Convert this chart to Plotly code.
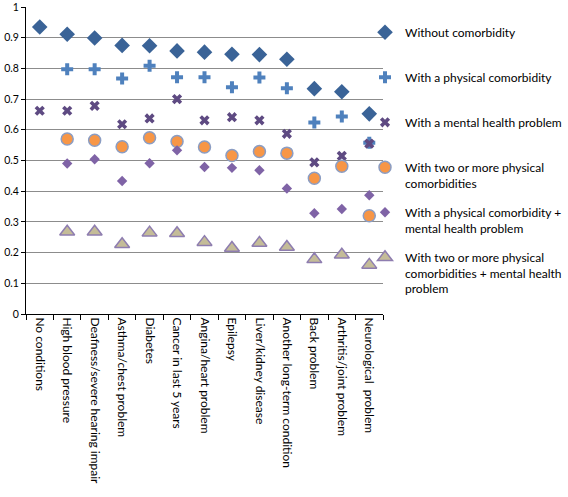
import plotly.graph_objects as go

categories = ["No conditions", "High blood pressure", "Deafness/severe hearing impair",
              "Asthma/chest problem", "Diabetes", "Cancer in last 5 years",
              "Angina/heart problem", "Epilepsy", "Liver/kidney disease",
              "Another long-term condition", "Back problem", "Arthritis/joint problem",
              "Neurological  problem"]

without_comorb = [0.935, 0.911, 0.899, 0.875, 0.874, 0.857, 0.853, 0.846, 0.845, 0.830, 0.734, 0.724, 0.652]
physical = [None, 0.797, 0.797, 0.767, 0.809, 0.771, 0.771, 0.739, 0.770, 0.735, 0.624, 0.643, 0.558]
mental = [0.662, 0.662, 0.678, 0.618, 0.637, 0.700, 0.631, 0.641, 0.631, 0.587, 0.494, 0.515, 0.555]
two_physical = [None, 0.570, 0.566, 0.545, 0.574, 0.562, 0.544, 0.516, 0.529, 0.524, 0.442, 0.481, 0.320]
phys_mental = [None, 0.490, 0.504, 0.433, 0.491, 0.533, 0.479, 0.476, 0.468, 0.409, 0.328, 0.342, 0.387]
two_phys_mental = [None, 0.268, 0.268, 0.227, 0.265, 0.263, 0.234, 0.215, 0.231, 0.218, 0.178, 0.193, 0.160]

series = [
    ("Without comorbidity", without_comorb, dict(symbol="diamond", size=12, color="#3A6397")),
    ("With a physical comorbidity", physical, dict(symbol="cross", size=10, color="#4F81BD")),
    ("With a mental health problem", mental, dict(symbol="x", size=9, color="#5E4A82")),
    ("With two or more physical<br>comorbidities", two_physical,
     dict(symbol="circle", size=12, color="#F79646", line=dict(color="#8B9DC3", width=1.5))),
    ("With a physical comorbidity +<br>mental health problem", phys_mental,
     dict(symbol="diamond", size=8, color="#7F63A6")),
    ("With two or more physical<br>comorbidities + mental health<br>problem", two_phys_mental,
     dict(symbol="triangle-up", size=13, color="#C4BC98", line=dict(color="#8E7DB0", width=1.5))),
]

W, H = 568, 497
# first-line centre of each legend entry, in pixels from the top of the figure
legend_rows_px = [33, 78, 123, 168, 213, 258]
legend_left_px = 365

fig = go.Figure()
legend_layout = {}
for i, (name, vals, marker) in enumerate(series):
    lname = "legend" if i == 0 else f"legend{i + 1}"
    fig.add_trace(go.Scatter(x=categories, y=vals, mode="markers", name=name,
                             marker=marker, legend=lname))
    legend_layout[lname] = dict(xref="container", yref="container",
                                x=legend_left_px / W, xanchor="left",
                                y=1 - (legend_rows_px[i] - 15) / H, yanchor="top",
                                valign="top", font=dict(size=12), itemwidth=30,
                                bgcolor="rgba(0,0,0,0)")

fig.update_layout(
    width=W, height=H,
    margin=dict(l=26, r=185, t=7, b=183, autoexpand=False),
    paper_bgcolor="white", plot_bgcolor="white",
    font=dict(family="Lato, Noto Sans, sans-serif", color="black", size=11),
    showlegend=True,
    **legend_layout,
)
fig.update_xaxes(type="category", range=[-0.5, 12.5], showline=True, linecolor="black",
                 linewidth=1, ticks="outside", tickson="boundaries", ticklen=5,
                 tickcolor="black", tickangle=90, showgrid=False,
                 tickfont=dict(size=12), automargin=False)
fig.update_yaxes(range=[0, 1], dtick=0.1, tick0=0, showline=True, linecolor="black",
                 linewidth=1, ticks="outside", ticklen=4, tickcolor="black",
                 showgrid=True, gridcolor="#8C8C8C", gridwidth=1, zeroline=False,
                 tickfont=dict(size=10.5), tickformat="~g", automargin=False)

fig.write_html("out.html", config={"displayModeBar": False},
               post_script="document.body.style.margin='0';")
